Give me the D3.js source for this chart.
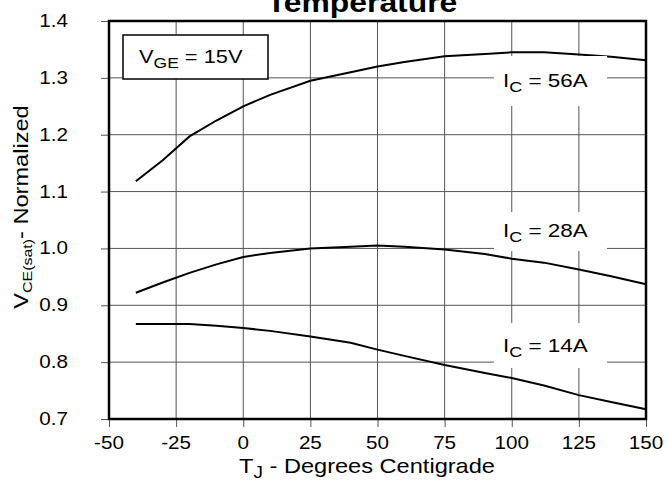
<!DOCTYPE html>
<html>
<head>
<meta charset="utf-8">
<script src="https://cdn.jsdelivr.net/npm/d3@7"></script>
<style>
  body { margin: 0; background: #fff; }
  text { font-family: "Liberation Sans", Arial, sans-serif; fill: #000; }
</style>
</head>
<body>
<div id="chart"></div>
<script>
// data
var tempC = [-40, -30, -20, -10, 0, 10, 25, 40, 50, 60, 75, 90, 100, 112, 125, 137, 150];
var ic56 = [1.118, 1.155, 1.197, 1.225, 1.25, 1.27, 1.295, 1.31, 1.32, 1.328, 1.338, 1.342, 1.345, 1.345, 1.341, 1.337, 1.331];
var ic28 = [0.922, 0.94, 0.957, 0.972, 0.985, 0.992, 1.0, 1.003, 1.005, 1.003, 0.998, 0.99, 0.982, 0.975, 0.963, 0.951, 0.937];
var ic14 = [0.867, 0.867, 0.867, 0.864, 0.86, 0.855, 0.845, 0.834, 0.822, 0.811, 0.795, 0.781, 0.772, 0.759, 0.742, 0.73, 0.717];
var xTicks = [-50, -25, 0, 25, 50, 75, 100, 125, 150];
var yTicks = [0.7, 0.8, 0.9, 1.0, 1.1, 1.2, 1.3, 1.4];
var seriesNames = ["56A", "28A", "14A"];

var margin = {top: 21, right: 22, bottom: 64, left: 109},
    width = 668 - margin.left - margin.right,
    height = 483 - margin.top - margin.bottom;

var svg = d3.select("#chart")
  .append("svg")
    .attr("width", 668)
    .attr("height", 483);

var g = svg.append("g")
    .attr("transform", "translate(" + margin.left + "," + margin.top + ")");

var x = d3.scaleLinear().domain([-50, 150]).range([0, width]);
var y = d3.scaleLinear().domain([0.7, 1.4]).range([height, 0]);

var SX = 1.18; // the reference text is a bit wide

// text with optional subscripts, stretched horizontally
function label(parent, px, py, parts, size, anchor, weight) {
  var t = parent.append("g")
      .attr("transform", "translate(" + px + "," + py + ") scale(" + SX + ",1)")
    .append("text")
      .attr("text-anchor", anchor || "start")
      .attr("font-size", size)
      .attr("font-weight", weight || "normal");
  parts.forEach(function(p) {
    var s = t.append("tspan").text(p[0]);
    if (p[1] === "sub") s.attr("font-size", size * 0.8).attr("dy", size * 0.25);
    if (p[1] === "up") s.attr("dy", -size * 0.25);
  });
  return t;
}

// grid
g.selectAll(".vgrid").data(xTicks).enter().append("line")
  .attr("x1", d => x(d)).attr("x2", d => x(d))
  .attr("y1", 0).attr("y2", height)
  .attr("stroke", "#555").attr("stroke-width", 1);
g.selectAll(".hgrid").data(yTicks).enter().append("line")
  .attr("x1", 0).attr("x2", width)
  .attr("y1", d => y(d)).attr("y2", d => y(d))
  .attr("stroke", "#555").attr("stroke-width", 1);

// axes
var xAxis = g.append("g")
  .attr("transform", "translate(0," + height + ")")
  .call(d3.axisBottom(x).tickValues(xTicks).tickSize(8).tickFormat(d3.format("d")));
var yAxis = g.append("g")
  .call(d3.axisLeft(y).tickValues(yTicks).tickSize(8).tickFormat(d3.format(".1f")));
[xAxis, yAxis].forEach(function(a) {
  a.select(".domain").remove();
  a.selectAll(".tick line").attr("stroke", "#555");
  a.selectAll(".tick text").remove();
});

xTicks.forEach(function(d) {
  label(g, x(d), height + 30, [[String(d)]], 17.5, "middle");
});
yTicks.forEach(function(d) {
  label(g, -41, y(d) + 6, [[d.toFixed(1)]], 17.5, "end");
});

// curves
var line = d3.line()
  .x(function(d) { return x(d[0]); })
  .y(function(d) { return y(d[1]); });

[ic56, ic28, ic14].forEach(function(vals) {
  g.append("path")
    .datum(tempC.map(function(t, i) { return [t, vals[i]]; }))
    .attr("fill", "none")
    .attr("stroke", "#000")
    .attr("stroke-width", 2)
    .attr("d", line);
});

// curve labels on white patches
var labelBoxes = [
  {y0: 56, y1: 106, base: 87},
  {y0: 212, y1: 251, base: 237},
  {y0: 323, y1: 368, base: 352}
];
labelBoxes.forEach(function(b, i) {
  svg.append("rect")
    .attr("x", 494).attr("y", b.y0)
    .attr("width", 113).attr("height", b.y1 - b.y0)
    .attr("fill", "#fff");
  label(svg, 503, b.base, [["I"], ["C", "sub"], [" = " + seriesNames[i], "up"]], 19);
});

// VGE box
svg.append("rect")
  .attr("x", 123).attr("y", 35)
  .attr("width", 145).attr("height", 44)
  .attr("fill", "#fff")
  .attr("stroke", "#000")
  .attr("stroke-width", 1.5);
label(svg, 139, 63, [["V"], ["GE", "sub"], [" = 15V", "up"]], 18.5);

// frame
g.append("rect")
  .attr("width", width).attr("height", height)
  .attr("fill", "none")
  .attr("stroke", "#000")
  .attr("stroke-width", 2.5);

// titles
label(svg, 362, 12, [["Temperature"]], 27, "middle", "bold");
label(svg, 367, 473, [["T"], ["J", "sub"], [" - Degrees Centigrade", "up"]], 20, "middle");

var yt = svg.append("g")
    .attr("transform", "translate(28,207) rotate(-90) scale(" + SX + ",1)")
  .append("text")
    .attr("text-anchor", "middle")
    .attr("font-size", 20);
yt.append("tspan").text("V");
yt.append("tspan").text("CE(sat)").attr("font-size", 13.5).attr("dy", 4);
yt.append("tspan").text("- Normalized").attr("dy", -4);
</script>
</body>
</html>
